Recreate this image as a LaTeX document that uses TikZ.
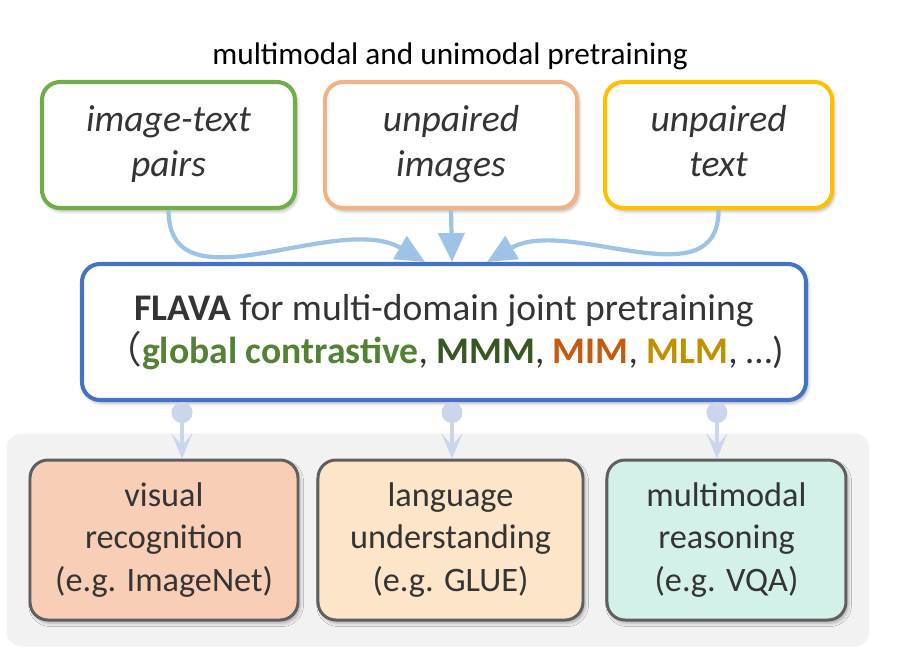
\documentclass[tikz,border=0pt]{standalone}
\usepackage{fontspec}
\setmainfont{Carlito}
\newfontfamily\cjk{Noto Sans CJK TC}
\usepackage{xcolor}
\usetikzlibrary{arrows.meta, positioning, fit, backgrounds, shadows.blur}
\definecolor{pairgreen}{RGB}{112, 173, 71}
\definecolor{imagesalmon}{RGB}{244, 177, 131}
\definecolor{textgold}{RGB}{255, 192, 0}
\definecolor{flavablue}{RGB}{68, 114, 196}
\definecolor{arrowblue}{RGB}{157, 195, 230}
\definecolor{tapblue}{RGB}{203, 213, 236}
\definecolor{inkgrey}{RGB}{52, 52, 52}
\definecolor{edgegrey}{RGB}{95, 95, 95}
\definecolor{panelgrey}{RGB}{242, 242, 242}
\definecolor{contrastgreen}{RGB}{84, 130, 53}
\definecolor{mmmgreen}{RGB}{56, 87, 35}
\definecolor{mimorange}{RGB}{197, 90, 17}
\definecolor{mlmgold}{RGB}{191, 144, 0}
\definecolor{visualpeach}{RGB}{249, 206, 182}
\definecolor{languagecream}{RGB}{252, 229, 200}
\definecolor{reasonmint}{RGB}{211, 241, 233}

\begin{document}
\begin{tikzpicture}[
    source/.style={draw=#1, line width=2.3pt, rounded corners=0.36cm, fill=white,
                   minimum height=2.52cm, align=center, text=inkgrey,
                   font=\fontsize{21.4}{25.5}\selectfont\itshape,
                   blur shadow={shadow xshift=1.2pt, shadow yshift=-1.8pt, shadow opacity=30, shadow blur steps=6}},
    task/.style={draw=edgegrey, line width=1.7pt, rounded corners=0.36cm, fill=#1,
                 minimum height=3.2cm, align=center, text=inkgrey,
                 font=\fontsize{19.5}{24.3}\selectfont,
                 blur shadow={shadow xshift=1.2pt, shadow yshift=-1.8pt, shadow opacity=30, shadow blur steps=6}},
    feed/.style={draw=arrowblue, line width=2.4pt, -{Triangle[length=0.58cm, width=0.52cm]}},
    tap/.style={draw=tapblue, line width=2pt,
                {Circle[length=0.42cm]}-{Stealth[length=0.5cm, width=0.42cm, inset=0.24cm]}}
]
    \useasboundingbox (0,0) rectangle (18.28,13.18);

    \node[text=black, font=\fontsize{17.8}{21}\selectfont] (title) at (9.0,12.06)
        {multimodal and unimodal pretraining};

    % data sources
    \node[source=pairgreen, minimum width=5.06cm] (pairs) at (3.37,10.28)
        {image-text\strut\\pairs\strut};
    \node[source=imagesalmon, minimum width=5.04cm, right=0.52cm of pairs] (images)
        {unpaired\strut\\images\strut};
    \node[source=textgold, minimum width=4.54cm, right=0.48cm of images] (texts)
        {unpaired\strut\\text\strut};

    % joint model
    \node[draw=flavablue, line width=2.3pt, rounded corners=0.36cm, fill=white,
          minimum width=14.48cm, minimum height=2.72cm, align=center, text=inkgrey,
          font=\fontsize{21.4}{24.4}\selectfont,
          blur shadow={shadow xshift=1.2pt, shadow yshift=-1.8pt, shadow opacity=30, shadow blur steps=6}]
        (flava) at (8.88,6.54)
        {\textbf{FLAVA} for multi-domain joint pretraining\\
         {\cjk （}\textbf{\color{contrastgreen}global contrastive}, \textbf{\color{mmmgreen}MMM},
         \textbf{\color{mimorange}MIM}, \textbf{\color{mlmgold}MLM}, \dots)};

    % downstream tasks
    \node[task=visualpeach, minimum width=5.36cm] (visual) at (3.28,2.38)
        {visual\\recognition\\(e.g. ImageNet)};
    \node[task=languagecream, minimum width=5.3cm, right=0.34cm of visual] (language)
        {language\\understanding\\(e.g. GLUE)};
    \node[task=reasonmint, minimum width=4.78cm, right=0.42cm of language] (reason)
        {multimodal\\reasoning\\(e.g. VQA)};

    \begin{scope}[on background layer]
        \node[fill=panelgrey, rounded corners=0.3cm, inner xsep=0.44cm, inner ysep=0.5cm,
              fit=(visual)(language)(reason)] (panel) {};
    \end{scope}

    \coordinate (inpairs) at ([xshift=-0.38cm]flava.north);
    \coordinate (inimages) at ([xshift=0.16cm]flava.north);
    \coordinate (intexts) at ([xshift=0.86cm]flava.north);
    \draw[feed] (pairs.south) to[out=-90, in=150] (inpairs);
    \draw[feed] (images.south) -- (inimages);
    \draw[feed] (texts.south) to[out=-90, in=30] (intexts);

    \coordinate (outvisual) at ([xshift=0.36cm]visual.north);
    \coordinate (outlanguage) at ([xshift=0.03cm]language.north);
    \coordinate (outreason) at ([xshift=-0.19cm]reason.north);
    \draw[tap] (flava.south -| outvisual) -- (outvisual);
    \draw[tap] (flava.south -| outlanguage) -- (outlanguage);
    \draw[tap] (flava.south -| outreason) -- (outreason);
\end{tikzpicture}
\end{document}
